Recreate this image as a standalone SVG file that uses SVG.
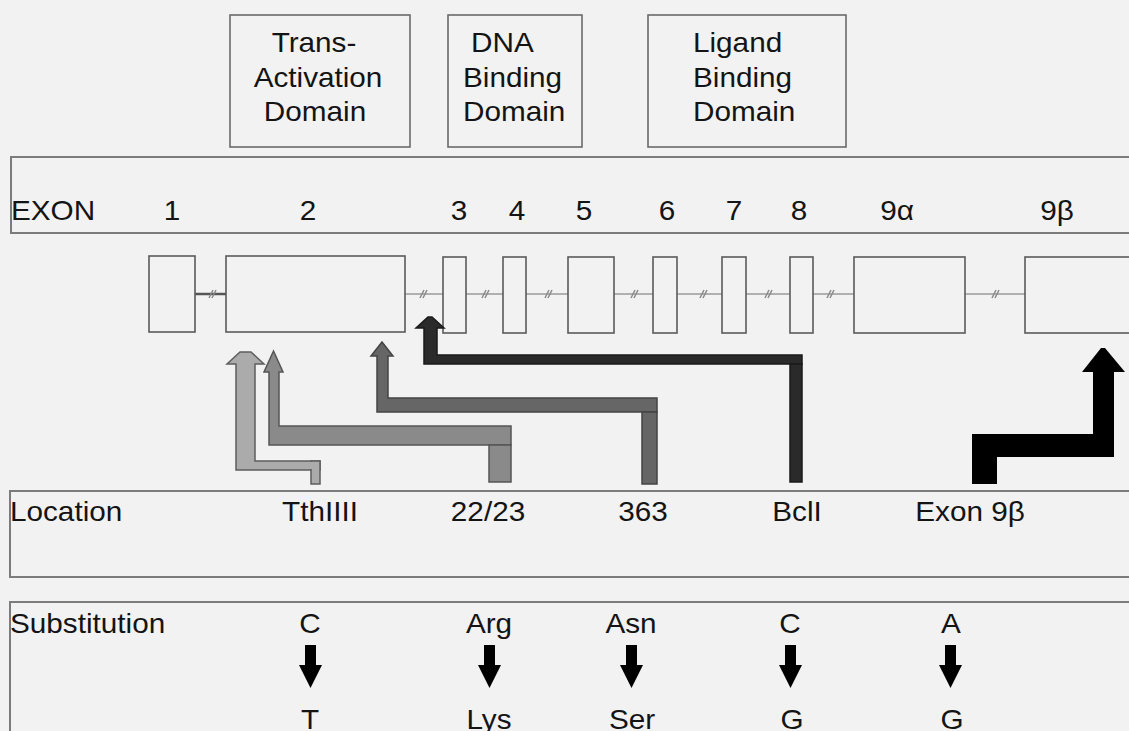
<svg xmlns="http://www.w3.org/2000/svg" width="1129" height="731" viewBox="0 0 1129 731">
<style>
.t{font-family:"Liberation Sans",Arial,sans-serif;font-size:27px;fill:#141414}
.m{text-anchor:middle}
.band{fill:none;stroke:#7c7c7c;stroke-width:2}
.dom{fill:#f2f2f2;stroke:#6a6a6a;stroke-width:1.6}
.ex{fill:#f2f2f2;stroke:#5a5a5a;stroke-width:1.6}
.intr{stroke:#9a9a9a;stroke-width:1.5;fill:none}
.hash{stroke:#8a8a8a;stroke-width:1.5;fill:none}
.sub{fill:#000}
</style>
<rect x="0" y="0" width="1129" height="731" fill="#f2f2f2"/>

<g id="domain-transactivation">
<rect class="dom" x="230" y="15" width="180" height="132"/>
<text class="t m" transform="translate(314,52) scale(1.1,1)">Trans-</text>
<text class="t m" transform="translate(318,87) scale(1.1,1)">Activation</text>
<text class="t m" transform="translate(315,121) scale(1.1,1)">Domain</text>
</g>
<g id="domain-dna">
<rect class="dom" x="448" y="15" width="134" height="132"/>
<text class="t" transform="translate(471,52) scale(1.1,1)">DNA</text>
<text class="t" transform="translate(463,87) scale(1.1,1)">Binding</text>
<text class="t" transform="translate(463,121) scale(1.1,1)">Domain</text>
</g>
<g id="domain-ligand">
<rect class="dom" x="648" y="15" width="198" height="132"/>
<text class="t" transform="translate(693,52) scale(1.1,1)">Ligand</text>
<text class="t" transform="translate(693,87) scale(1.1,1)">Binding</text>
<text class="t" transform="translate(693,121) scale(1.1,1)">Domain</text>
</g>

<g id="exon-band">
<rect class="band" x="11" y="157" width="1130" height="76"/>
<text class="t" transform="translate(11,220) scale(1.1,1)">EXON</text>
<text class="t m" transform="translate(172,220) scale(1.1,1)">1</text>
<text class="t m" transform="translate(308,220) scale(1.1,1)">2</text>
<text class="t m" transform="translate(459,220) scale(1.1,1)">3</text>
<text class="t m" transform="translate(517,220) scale(1.1,1)">4</text>
<text class="t m" transform="translate(584,220) scale(1.1,1)">5</text>
<text class="t m" transform="translate(667,220) scale(1.1,1)">6</text>
<text class="t m" transform="translate(734,220) scale(1.1,1)">7</text>
<text class="t m" transform="translate(799,220) scale(1.1,1)">8</text>
<text class="t m" transform="translate(897,220) scale(1.1,1)">9α</text>
<text class="t m" transform="translate(1057,220) scale(1.1,1)">9β</text>
</g>

<g id="gene-structure">
<line x1="195" y1="294" x2="226" y2="294" stroke="#555" stroke-width="2.5"/>
<line class="intr" x1="405" y1="294" x2="1129" y2="294"/>
<g class="hash">
<path d="M209,298 L213,290 M212,298 L216,290"/>
<path d="M420,298 L424,290 M423,298 L427,290"/>
<path d="M482,298 L486,290 M485,298 L489,290"/>
<path d="M545,298 L549,290 M548,298 L552,290"/>
<path d="M631,298 L635,290 M634,298 L638,290"/>
<path d="M700,298 L704,290 M703,298 L707,290"/>
<path d="M765,298 L769,290 M768,298 L772,290"/>
<path d="M827,298 L831,290 M830,298 L834,290"/>
<path d="M992,298 L996,290 M995,298 L999,290"/>
</g>
<rect id="exon1" class="ex" x="149" y="256" width="46" height="76"/>
<rect id="exon2" class="ex" x="226" y="256" width="179" height="76"/>
<rect id="exon3" class="ex" x="443" y="257" width="23" height="76"/>
<rect id="exon4" class="ex" x="503" y="257" width="23" height="76"/>
<rect id="exon5" class="ex" x="568" y="257" width="46" height="76"/>
<rect id="exon6" class="ex" x="653" y="257" width="24" height="76"/>
<rect id="exon7" class="ex" x="722" y="257" width="24" height="76"/>
<rect id="exon8" class="ex" x="790" y="257" width="23" height="76"/>
<rect id="exon9a" class="ex" x="854" y="257" width="111" height="76"/>
<rect id="exon9b" class="ex" x="1025" y="257" width="120" height="76"/>
</g>

<g id="connectors">
<g id="arrow-tthiiii">
<polygon points="236,470 236,364 227,364 240,352 251,352 264,364 255,364 255,461 320,461 320,470" fill="#ababab" stroke="#5e5e5e" stroke-width="1.5"/>
<rect x="311" y="461" width="9" height="23" fill="#ababab" stroke="#5e5e5e" stroke-width="1.5"/>
<rect x="256" y="462" width="63" height="7" fill="#ababab"/>
</g>
<g id="arrow-2223">
<polygon points="269,445 269,372 264,372 273.5,351 283,372 279,372 279,426 511,426 511,445" fill="#8a8a8a" stroke="#555" stroke-width="1.5"/>
<rect x="489" y="445" width="22" height="37" fill="#8a8a8a" stroke="#555" stroke-width="1.5"/>
</g>
<g id="arrow-363">
<polygon points="377,412 377,356 371,356 382,342 393,356 388,356 388,398 657,398 657,412" fill="#666" stroke="#444" stroke-width="1.5"/>
<rect x="642" y="412" width="15" height="72" fill="#666" stroke="#444" stroke-width="1.5"/>
</g>
<g id="arrow-bcli">
<polygon points="424,364 424,328 416,328 428,317 432,317 444,328 437,328 437,355 802,355 802,364" fill="#2a2a2a" stroke="#1a1a1a" stroke-width="1.5"/>
<rect x="790" y="364" width="12" height="118" fill="#2a2a2a" stroke="#1a1a1a" stroke-width="1.5"/>
</g>
<g id="arrow-exon9b">
<polygon points="972,484 972,434 1093,434 1093,372 1082,372 1101,348 1105,348 1125,372 1114,372 1114,457 997,457 997,484" fill="#000"/>
</g>
</g>

<g id="location-band">
<rect class="band" x="10" y="491" width="1130" height="86"/>
<text class="t" transform="translate(10,521) scale(1.1,1)">Location</text>
<text class="t m" transform="translate(320,521) scale(1.1,1)">TthIIII</text>
<text class="t m" transform="translate(488,521) scale(1.1,1)">22/23</text>
<text class="t m" transform="translate(643,521) scale(1.1,1)">363</text>
<text class="t m" transform="translate(797,521) scale(1.1,1)">BclI</text>
<text class="t m" transform="translate(970,521) scale(1.1,1)">Exon 9β</text>
</g>

<g id="substitution-band">
<rect class="band" x="10" y="602" width="1130" height="150"/>
<text class="t" transform="translate(10,633) scale(1.1,1)">Substitution</text>
<g id="sub-tthiiii">
<text class="t m" transform="translate(310,633) scale(1.1,1)">C</text>
<polygon class="sub" points="305,645 316,645 316,665 322,665 310.5,688 299,665 305,665"/>
<text class="t m" transform="translate(310,729) scale(1.1,1)">T</text>
</g>
<g id="sub-2223">
<text class="t m" transform="translate(489,633) scale(1.1,1)">Arg</text>
<polygon class="sub" points="484,645 495,645 495,665 501,665 489.5,688 478,665 484,665"/>
<text class="t m" transform="translate(489,729) scale(1.1,1)">Lys</text>
</g>
<g id="sub-363">
<text class="t m" transform="translate(631,633) scale(1.1,1)">Asn</text>
<polygon class="sub" points="626,645 637,645 637,665 643,665 631.5,688 620,665 626,665"/>
<text class="t m" transform="translate(632,729) scale(1.1,1)">Ser</text>
</g>
<g id="sub-bcli">
<text class="t m" transform="translate(790,633) scale(1.1,1)">C</text>
<polygon class="sub" points="785,645 796,645 796,665 802,665 790.5,688 779,665 785,665"/>
<text class="t m" transform="translate(792,729) scale(1.1,1)">G</text>
</g>
<g id="sub-exon9b">
<text class="t m" transform="translate(951,633) scale(1.1,1)">A</text>
<polygon class="sub" points="945,645 956,645 956,665 962,665 950.5,688 939,665 945,665"/>
<text class="t m" transform="translate(952,729) scale(1.1,1)">G</text>
</g>
</g>
</svg>
